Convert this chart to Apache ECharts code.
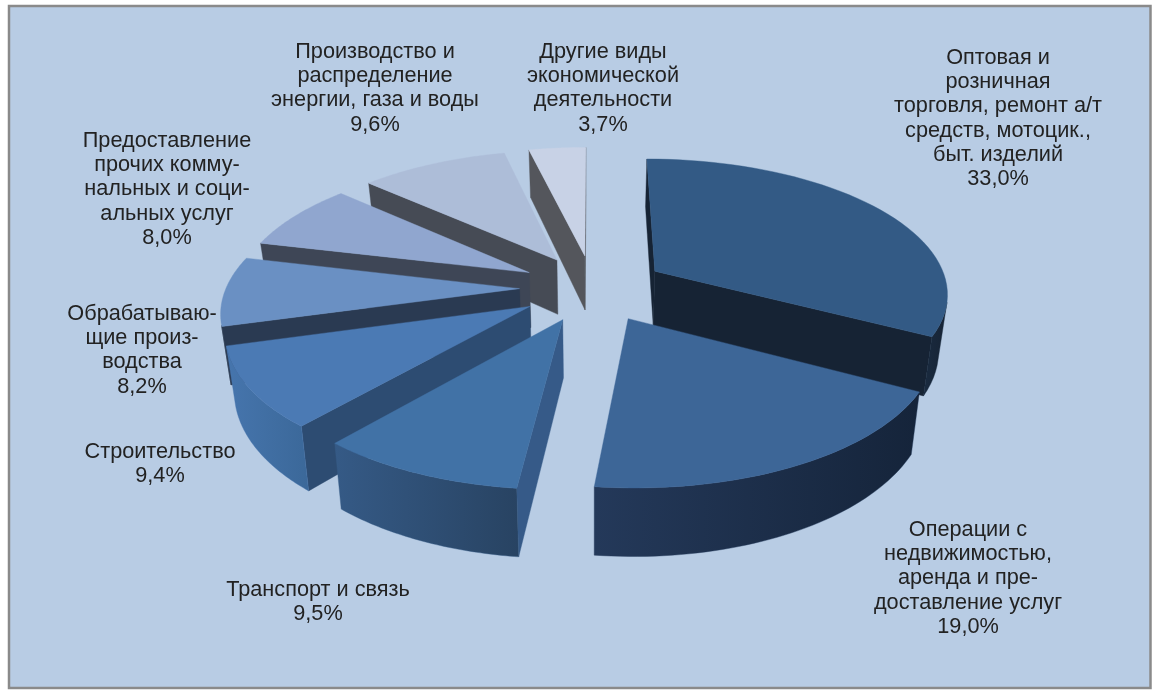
<!DOCTYPE html>
<html>
<head>
<meta charset="utf-8">
<style>html,body{margin:0;padding:0;background:#fff}#c{width:1158px;height:698px}</style>
<script src="https://cdn.jsdelivr.net/npm/echarts@6/dist/echarts.min.js"></script>
</head>
<body>
<div id="c"></div>
<script>
// ---- data ----
const categories = [
  'Оптовая и\nрозничная\nторговля, ремонт а/т\nсредств, мотоцик.,\nбыт. изделий',
  'Операции с\nнедвижимостью,\nаренда и пре-\nдоставление услуг',
  'Транспорт и связь',
  'Строительство',
  'Обрабатываю-\nщие произ-\nводства',
  'Предоставление\nпрочих комму-\nнальных и соци-\nальных услуг',
  'Производство и\nраспределение\nэнергии, газа и воды',
  'Другие виды\nэкономической\nдеятельности'
];
const values = [33.0, 19.0, 9.5, 9.4, 8.2, 8.0, 9.6, 3.7];

// ---- styling ----
const topColors = ['#335a85', '#3d6697', '#4172a6', '#4b7ab4', '#6a90c3', '#90a6cf', '#adbdd8', '#c8d2e6'];
const cutColors = ['#162334', '#1c2e48', '#365a88', '#2d4c72', '#2a3a52', '#3e4656', '#464b55', '#54565c'];
const rimColors = [
  ['#1a2b40', '#162334'], ['#24395a', '#15243a'], ['#355a86', '#284362'], ['#4675ad', '#3b6899'],
  ['#2a3a52', '#2a3a52'], ['#3e4656', '#3e4656'], ['#464b55', '#464b55'], ['#54565c', '#54565c']
];
// label anchors: centre x, centre y of first line
const labelAnchors = [[998, 58], [968, 530], [318, 590], [160, 452], [142, 314], [167, 141], [375, 52], [603, 52]];
const LABEL_FONT = '21.7px "Liberation Sans", Arial, sans-serif';
const LINE_H = 24.2;

// ---- projection of the exploded disc ----
const CX = 593, CY = 288, RX = 293.5, RY = 133.7, PERSP = 0.15, DEPTH = 56, SHRINK = 0.975, EXPLODE = 0.25, STEPS = 48;

const total = values.reduce((a, b) => a + b, 0);
function angleAt(i) {
  let s = 0;
  for (let k = 0; k < i; k++) s += values[k];
  return s / total * Math.PI * 2;
}
function project(u, v, bottom) {
  const w = 1 - PERSP * v;
  let x = RX * u / w, y = RY * v / w;
  if (bottom) { x *= SHRINK; y += DEPTH / w; }
  return [CX + x, CY + y];
}
function area(p) {
  let s = 0;
  for (let i = 0; i < p.length; i++) {
    const a = p[i], b = p[(i + 1) % p.length];
    s += a[0] * b[1] - b[0] * a[1];
  }
  return s;
}
const midV = values.map((_, i) => -Math.cos((angleAt(i) + angleAt(i + 1)) / 2));
const rank = midV.map((v) => midV.filter((o) => o < v).length);

function poly(points, fill, z2) {
  return { type: 'polygon', silent: true, z2: z2, shape: { points: points },
    style: { fill: fill, stroke: typeof fill === 'string' ? fill : fill.colorStops[0].color, lineWidth: 0.4 } };
}

function renderSlice(params, api) {
  const i = params.dataIndex;
  const value = api.value(0);
  const a0 = angleAt(i), a1 = a0 + value / total * Math.PI * 2, am = (a0 + a1) / 2;
  const ou = EXPLODE * Math.sin(am), ov = -EXPLODE * Math.cos(am);
  const base = rank[i] * 10 + 10;
  const rimTop = [], rimBot = [];
  for (let s = 0; s <= STEPS; s++) {
    const t = a0 + (a1 - a0) * s / STEPS;
    const u = ou + Math.sin(t), v = ov - Math.cos(t);
    rimTop.push(project(u, v, false));
    rimBot.push(project(u, v, true));
  }
  const apexT = project(ou, ov, false), apexB = project(ou, ov, true);
  const children = [];
  // cut faces
  const startFace = [apexT, rimTop[0], rimBot[0], apexB];
  const endFace = [apexT, rimTop[STEPS], rimBot[STEPS], apexB];
  if (area(startFace) < 0) children.push(poly(startFace, cutColors[i], base));
  if (area(endFace) > 0) children.push(poly(endFace, cutColors[i], base));
  // visible rim runs
  let run = null;
  const flush = () => {
    if (!run) return;
    const pts = run.top.concat(run.bot.slice().reverse());
    const fill = { type: 'linear', x: 0, y: 0, x2: 1, y2: 0, colorStops: [
      { offset: 0, color: rimColors[i][0] }, { offset: 1, color: rimColors[i][1] }] };
    children.push(poly(pts, fill, base + 1));
    run = null;
  };
  for (let s = 0; s < STEPS; s++) {
    const q = [rimTop[s], rimTop[s + 1], rimBot[s + 1], rimBot[s]];
    if (area(q) < 0) {
      if (!run) run = { top: [rimTop[s]], bot: [rimBot[s]] };
      run.top.push(rimTop[s + 1]);
      run.bot.push(rimBot[s + 1]);
    } else flush();
  }
  flush();
  // top surface
  children.push(poly([apexT].concat(rimTop), topColors[i], base + 2));
  // label
  const a = labelAnchors[i];
  children.push({ type: 'text', silent: true, z2: 500, style: {
    text: categories[i] + '\n' + value.toFixed(1).replace('.', ',') + '%',
    x: a[0], y: a[1] - LINE_H / 2, align: 'center', verticalAlign: 'top',
    font: LABEL_FONT, lineHeight: LINE_H, fill: '#222222' } });
  return { type: 'group', children: children };
}

const chart = echarts.init(document.getElementById('c'), null, { renderer: 'canvas' });
chart.setOption({
  animation: false,
  backgroundColor: '#ffffff',
  graphic: [{ type: 'rect', silent: true, z: -1, shape: { x: 9, y: 6, width: 1141.5, height: 682 },
    style: { fill: '#b8cce4', stroke: '#8a8a8a', lineWidth: 2.5 } }],
  series: [{
    type: 'custom',
    coordinateSystem: 'none',
    renderItem: renderSlice,
    data: values.map((v) => [v]),
    clip: false
  }]
});
</script>
</body>
</html>
